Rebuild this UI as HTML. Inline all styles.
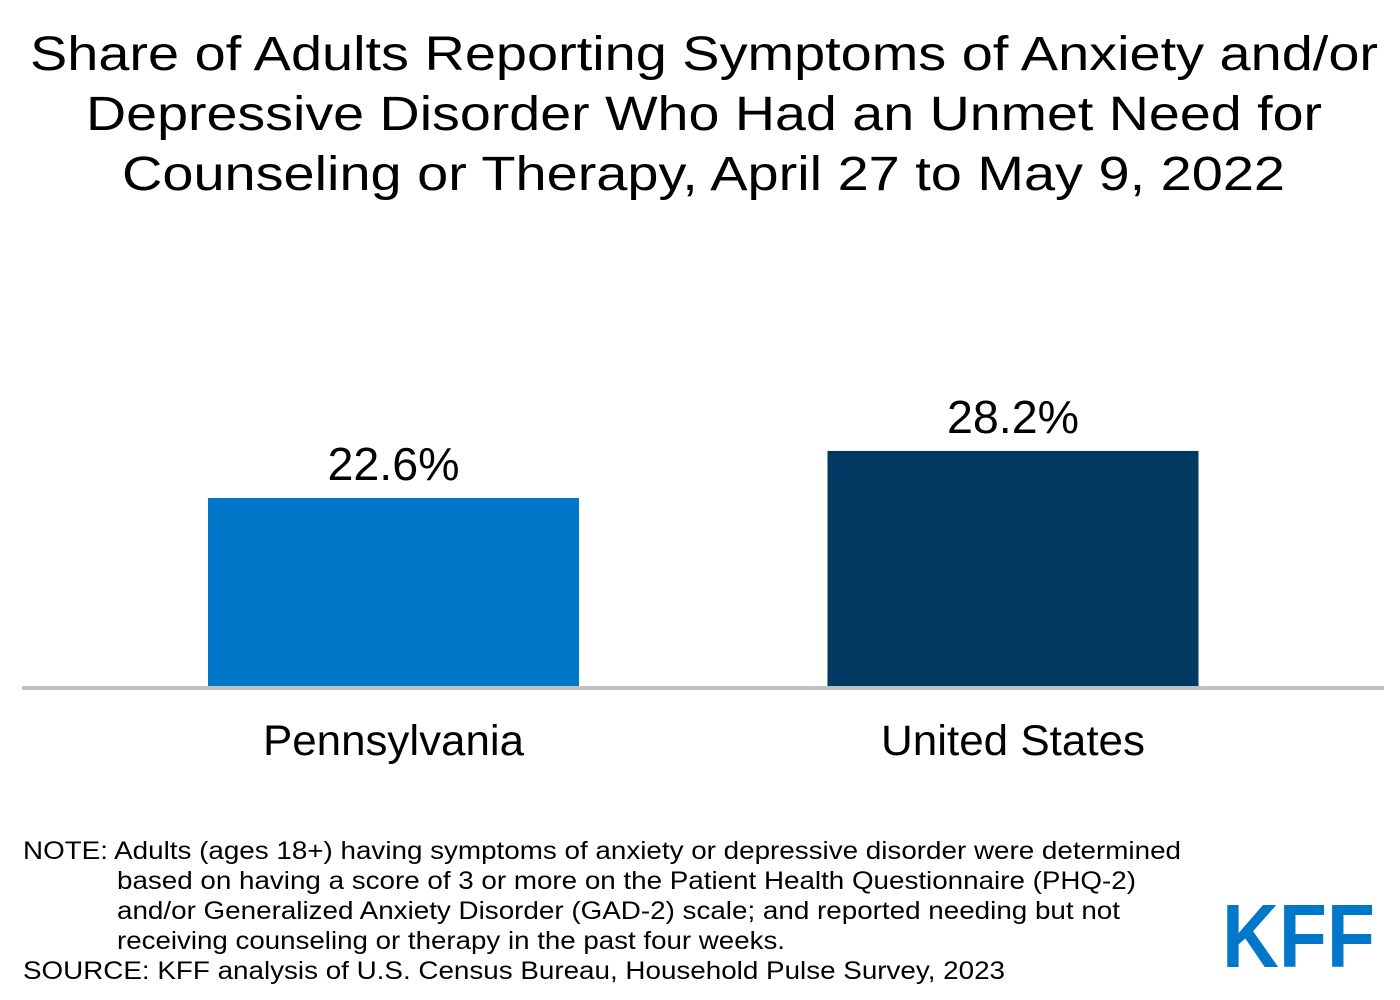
<!DOCTYPE html>
<html><head><meta charset="utf-8"><style>
html,body{margin:0;padding:0;background:#fff;}
svg{display:block;font-family:"Liberation Sans",Arial,sans-serif;}
</style></head><body>
<svg id="chart" width="1400" height="1000" viewBox="0 0 1400 1000">
<g font-size="48" fill="#000" lengthAdjust="spacingAndGlyphs">
<text x="30" y="70" textLength="1348" lengthAdjust="spacingAndGlyphs">Share of Adults Reporting Symptoms of Anxiety and/or</text>
<text x="86" y="130" textLength="1236" lengthAdjust="spacingAndGlyphs">Depressive Disorder Who Had an Unmet Need for</text>
<text x="122" y="190" textLength="1163" lengthAdjust="spacingAndGlyphs">Counseling or Therapy, April 27 to May 9, 2022</text>
</g>
<g id="bars"></g>
<rect x="22" y="686" width="1362" height="4" fill="#c0c0c0"/>
<g font-size="25" fill="#000">
<text x="23" y="859" textLength="1158" lengthAdjust="spacingAndGlyphs">NOTE: Adults (ages 18+) having symptoms of anxiety or depressive disorder were determined</text>
<text x="117" y="889" textLength="1019" lengthAdjust="spacingAndGlyphs">based on having a score of 3 or more on the Patient Health Questionnaire (PHQ-2)</text>
<text x="117" y="919" textLength="1003" lengthAdjust="spacingAndGlyphs">and/or Generalized Anxiety Disorder (GAD-2) scale; and reported needing but not</text>
<text x="117" y="949" textLength="668" lengthAdjust="spacingAndGlyphs">receiving counseling or therapy in the past four weeks.</text>
<text x="23" y="979" textLength="982" lengthAdjust="spacingAndGlyphs">SOURCE: KFF analysis of U.S. Census Bureau, Household Pulse Survey, 2023</text>
</g>
<text x="1222" y="967" font-size="90" font-weight="bold" fill="#0077c8" textLength="153" lengthAdjust="spacingAndGlyphs">KFF</text>
</svg>
<script>
const categories = ["Pennsylvania", "United States"];
const values = [22.6, 28.2];
const valueLabels = ["22.6%", "28.2%"];
const colors = ["#0077c8", "#003a63"];
const baseY = 688, pxPer = 190 / 22.6;
const xCenters = [393.5, 1013];
const barW = 371;
function yScale(v){ return baseY - v * pxPer; }
const ns = "http://www.w3.org/2000/svg";
const g = document.getElementById("bars");
categories.forEach((c, i) => {
  const r = document.createElementNS(ns, "rect");
  
  
  const y = yScale(values[i]);
  r.setAttribute("x", xCenters[i] - barW / 2);
  r.setAttribute("y", y);
  r.setAttribute("width", barW);
  r.setAttribute("height", baseY - y);
  r.setAttribute("fill", colors[i]);
  g.appendChild(r);
  const t = document.createElementNS(ns, "text");
  
  
  t.setAttribute("x", xCenters[i]);
  t.setAttribute("y", y - 18);
  t.setAttribute("text-anchor", "middle");
  t.setAttribute("font-size", "46");
  t.setAttribute("textLength", "132");
  t.setAttribute("lengthAdjust", "spacingAndGlyphs");
  t.textContent = valueLabels[i];
  g.appendChild(t);
  const l = document.createElementNS(ns, "text");
  
  
  l.setAttribute("x", xCenters[i]);
  l.setAttribute("y", 755);
  l.setAttribute("text-anchor", "middle");
  l.setAttribute("font-size", "43");
  l.setAttribute("textLength", i === 0 ? "261" : "264");
  l.setAttribute("lengthAdjust", "spacingAndGlyphs");
  l.textContent = c;
  g.appendChild(l);
});
</script>
</body></html>
